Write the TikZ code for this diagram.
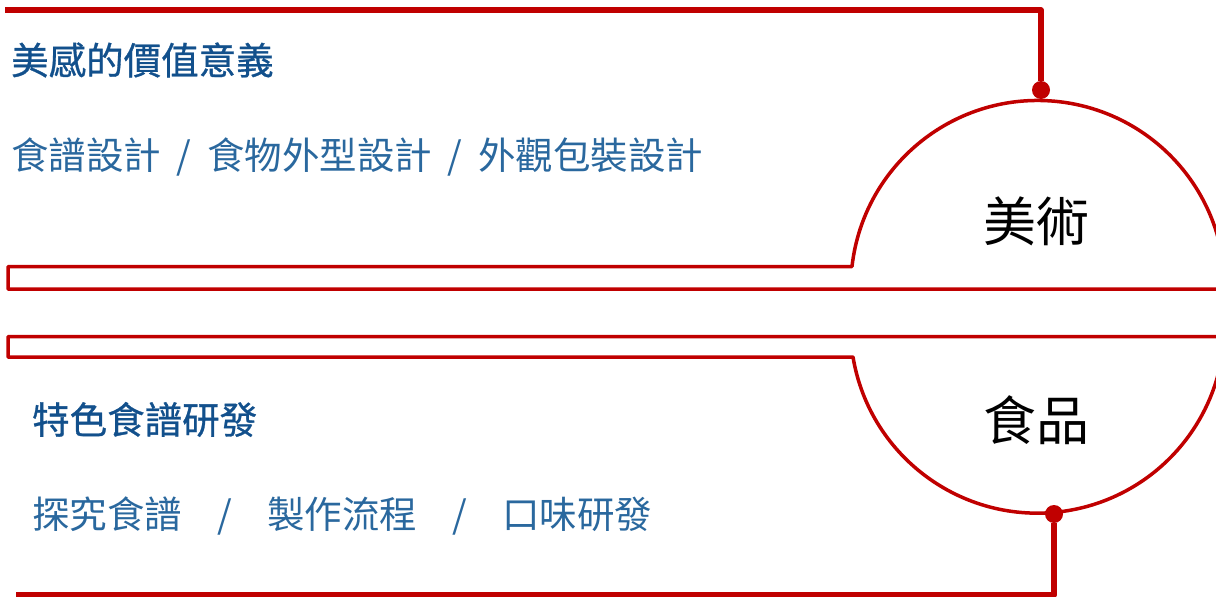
\documentclass[tikz,border=0pt]{standalone}
\usepackage{fontspec}
\newfontfamily\cjk{Noto Sans CJK TC}
\newfontfamily\cjkbold[FakeBold=0.8]{Noto Sans CJK TC}
\definecolor{lred}{RGB}{192,0,0}
\definecolor{ttlblue}{RGB}{18,80,140}
\definecolor{subblue}{RGB}{42,104,158}
\tikzset{
  thickline/.style={draw=lred, line width=5.5pt, line join=round},
  bandline/.style={draw=lred, line width=3.5pt, line join=round},
  dotnode/.style={circle, fill=lred, inner sep=0pt, minimum size=18pt},
  ttl/.style={anchor=west, inner sep=0pt, text=ttlblue, font=\cjkbold\fontsize{37.5}{40}\selectfont},
  sub/.style={anchor=west, inner sep=0pt, text=subblue, font=\cjk\fontsize{37.5}{40}\selectfont},
  big/.style={anchor=west, inner sep=0pt, text=black, font=\cjk\fontsize{53}{56}\selectfont},
}
\begin{document}
\begin{tikzpicture}[x=1pt, y=-1pt]
\useasboundingbox (0,0) rectangle (1216,597);
% top connector
\coordinate (tstart) at (5,10);
\node[dotnode] (d1) at (1041,90) {};
\draw[thickline] (tstart) -| (d1);
% bottom connector
\node[dotnode] (d2) at (1054,514) {};
\coordinate (bend) at (16,595);
\draw[thickline] (d2) |- (bend);
% upper band with arc
\coordinate (ub1) at (1240,289);
\coordinate (ub2) at (8,289);
\coordinate (ub3) at (8,266.5);
\coordinate (ub4) at (852,266.5);
\draw[bandline] (ub1) -- (ub2) -- (ub3) -- (ub4) arc[start angle=186.44, end angle=345, radius=187];
% lower band with arc
\coordinate (lb1) at (1240,336.5);
\coordinate (lb2) at (8,336.5);
\coordinate (lb3) at (8,357);
\coordinate (lb4) at (853,357);
\draw[bandline] (lb1) -- (lb2) -- (lb3) -- (lb4) arc[start angle=170.5, end angle=5, radius=187];
% texts
\node[ttl] (t1) at (11,60) {美感的價值意義};
\node[sub] (s1) at (11,157) {食譜設計\makebox[46pt][c]{/}食物外型設計\makebox[46pt][c]{/}外觀包裝設計};
\node[big] (m1) at (983,221) {美術};
\node[big] (m2) at (983,420) {食品};
\node[ttl] (t2) at (32,419.5) {特色食譜研發};
\node[sub] (s2) at (32,516) {探究食譜\makebox[85pt][c]{/}製作流程\makebox[85pt][c]{/}口味研發};
\end{tikzpicture}
\end{document}
